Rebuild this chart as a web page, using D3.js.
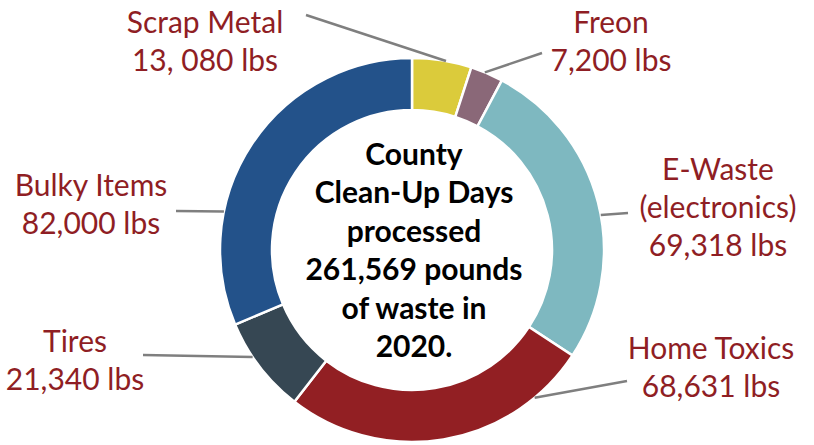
<!DOCTYPE html>
<html>
<head>
<meta charset="utf-8">
<script src="https://cdn.jsdelivr.net/npm/d3@7"></script>
<style>
  html, body { margin: 0; padding: 0; background: #fff; }
  svg { display: block; }
</style>
</head>
<body>
<svg id="chart" width="814" height="445"></svg>
<script>
// ---- Data ----
const categories = ["Scrap Metal", "Freon", "E-Waste", "Home Toxics", "Tires", "Bulky Items"];
const pounds = [13080, 7200, 69318, 68631, 21340, 82000];
const labelLines = [
  ["Scrap Metal", "13, 080 lbs"],
  ["Freon", "7,200 lbs"],
  ["E-Waste", "(electronics)", "69,318 lbs"],
  ["Home Toxics", "68,631 lbs"],
  ["Tires", "21,340 lbs"],
  ["Bulky Items", "82,000 lbs"]
];
const centerLines = ["County", "Clean-Up Days", "processed", "261,569 pounds", "of waste in", "2020."];

// ---- Layout / style ----
const colors = ["#DBCB3B", "#8A6878", "#7EB8C0", "#921F23", "#364753", "#23528A"];
const cx = 412, cy = 250, rOuter = 192, rInner = 140;
// label anchor (center x, first baseline y), leader line start point, leader angle (deg, clockwise from top)
const labelLayout = [
  { x: 205, y: 33, lx: 306, ly: 15, ang: 10.2 },
  { x: 611, y: 33, lx: 542, ly: 53, ang: 22.3 },
  { x: 718, y: 180, lx: 628, ly: 213, ang: 79.5 },
  { x: 711, y: 359, lx: 627, ly: 381, ang: 140.3 },
  { x: 75, y: 352, lx: 143, ly: 355, ang: 236.1 },
  { x: 91, y: 196, lx: 176, ly: 211, ang: 281.6 }
];
const lineGap = 38;

const svg = d3.select("#chart");
const g = svg.append("g").attr("transform", `translate(${cx},${cy})`);

const pie = d3.pie().sort(null).value(d => d)(pounds);
const arc = d3.arc().innerRadius(rInner).outerRadius(rOuter);

// leader lines (drawn beneath ring)
const leaders = svg.append("g");
labelLayout.forEach((L, i) => {
  const a = L.ang * Math.PI / 180;
  leaders.append("line")
    .attr("x1", L.lx).attr("y1", L.ly)
    .attr("x2", cx + rOuter * Math.sin(a)).attr("y2", cy - rOuter * Math.cos(a))
    .attr("stroke", "#7f7f7f").attr("stroke-width", 2.5);
});

g.selectAll("path").data(pie).join("path")
  .attr("d", arc)
  .attr("fill", (d, i) => colors[i])
  .attr("stroke", "#fff")
  .attr("stroke-width", 2.5);

// labels
const labels = svg.append("g")
  .attr("font-family", "Lato, 'Open Sans', sans-serif")
  .attr("font-size", 30)
  .attr("fill", "#8F1E24")
  .attr("text-anchor", "middle");
labelLines.forEach((lines, i) => {
  const L = labelLayout[i];
  const t = labels.append("text");
  lines.forEach((s, j) => {
    t.append("tspan").attr("x", L.x).attr("y", L.y + j * lineGap).text(s);
  });
});

// center text
const ct = svg.append("text")
  .attr("font-family", "Lato, 'Open Sans', sans-serif")
  .attr("font-weight", "bold")
  .attr("font-size", 30)
  .attr("fill", "#000")
  .attr("text-anchor", "middle");
centerLines.forEach((s, j) => {
  ct.append("tspan").attr("x", 414).attr("y", 165 + j * 38.4).text(s);
});
</script>
</body>
</html>
